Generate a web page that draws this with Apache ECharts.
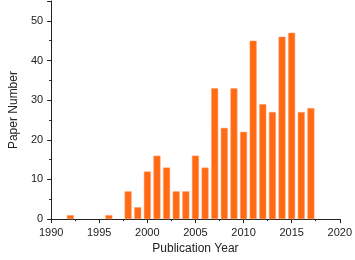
<!DOCTYPE html>
<html>
<head>
<meta charset="utf-8">
<script src="https://cdn.jsdelivr.net/npm/echarts@6/dist/echarts.min.js"></script>
<style>
  html, body { margin: 0; padding: 0; background: #fff; }
  #main { width: 355px; height: 260px; }
</style>
</head>
<body>
<div id="main"></div>
<script>
var years = [1992, 1996, 1998, 1999, 2000, 2001, 2002, 2003, 2004, 2005, 2006, 2007, 2008, 2009, 2010, 2011, 2012, 2013, 2014, 2015, 2016, 2017];
var papers = [1, 1, 7, 3, 12, 16, 13, 7, 7, 16, 13, 33, 23, 33, 22, 45, 29, 27, 46, 47, 27, 28];

var textStyle = {
  color: '#222',
  fontSize: 11,
  fontFamily: 'Liberation Sans'
};
var lineStyle = {
  color: '#222',
  width: 1
};

var chart = echarts.init(document.getElementById('main'), null, { renderer: 'canvas' });
var option = {
  animation: false,
  grid: {
    left: 43,
    right: 13,
    top: 1,
    bottom: 38
  },
  xAxis: {
    type: 'value',
    min: 1990,
    max: 2020,
    interval: 5,
    name: 'Publication Year',
    nameLocation: 'middle',
    nameGap: 22,
    nameTextStyle: { color: '#222', fontSize: 12, fontFamily: 'Liberation Sans' },
    splitLine: { show: false },
    axisLine: { lineStyle: lineStyle },
    axisTick: { length: 4, lineStyle: lineStyle },
    minorTick: { show: true, splitNumber: 2, length: 2, lineStyle: lineStyle },
    axisLabel: Object.assign({
      margin: 8,
      formatter: function (v) { return String(v); }
    }, textStyle)
  },
  yAxis: {
    type: 'value',
    min: 0,
    max: 55,
    interval: 10,
    name: 'Paper Number',
    nameLocation: 'middle',
    nameGap: 30,
    nameTextStyle: { color: '#222', fontSize: 12, fontFamily: 'Liberation Sans' },
    splitLine: { show: false },
    axisLine: { show: true, lineStyle: lineStyle },
    axisTick: { show: true, length: 4, lineStyle: lineStyle },
    minorTick: { show: true, splitNumber: 2, length: 2, lineStyle: lineStyle },
    axisLabel: Object.assign({
      margin: 8,
      formatter: function (v) { return v > 50 ? '' : String(v); }
    }, textStyle)
  },
  series: [{
    type: 'bar',
    barWidth: 7,
    data: years.map(function (y, i) { return [y, papers[i]]; }),
    itemStyle: {
      color: '#FF6A13',
      borderColor: '#FFA070',
      borderWidth: 0.5
    }
  }]
};
chart.setOption(option);
</script>
</body>
</html>
